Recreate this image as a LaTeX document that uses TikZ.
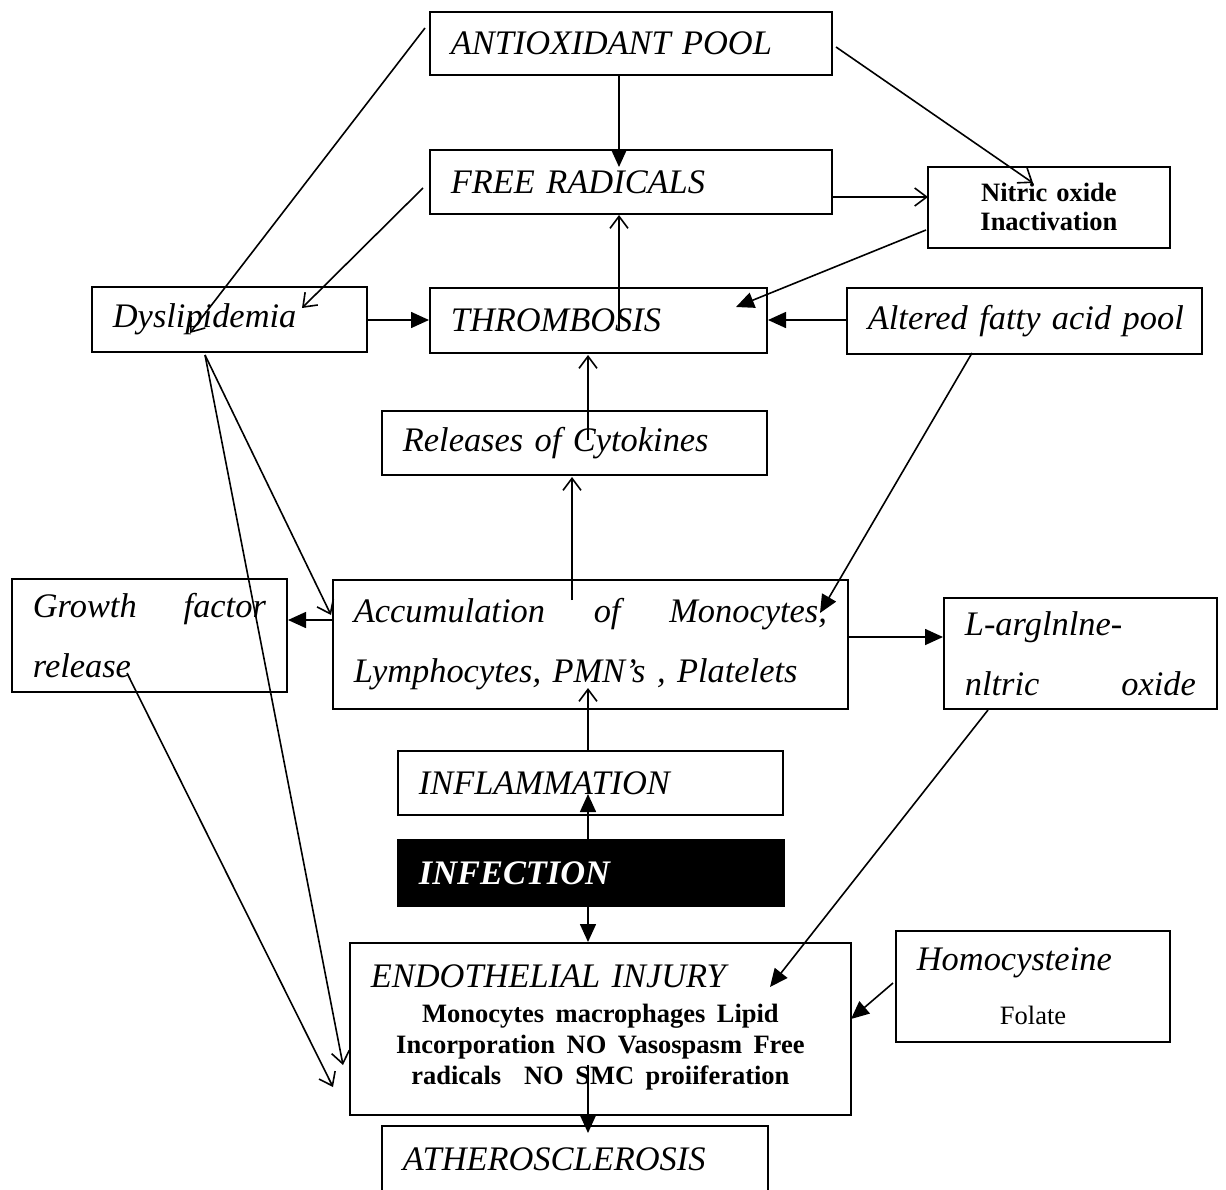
\documentclass[tikz,border=0pt]{standalone}
\usepackage{fontspec}
\setmainfont{Liberation Serif}
\usetikzlibrary{arrows.meta}
\newcommand\mkbox[7][]{%
  \pgfmathsetmacro\bxw{(#4-#2)/2-21}%
  \pgfmathsetmacro\bxh{(#5-#3)/2}%
  \node[bx,text width=\bxw pt,minimum height=\bxh pt,#1] (#6) at (#2,#3) {#7};}
\begin{document}
\begin{tikzpicture}[x=0.5pt,y=-0.5pt,
  bx/.style={draw, line width=0.9pt, anchor=north west, inner xsep=10.5pt, inner ysep=0pt,
    align=left, font=\fontsize{17.2}{30}\selectfont\itshape},
  bld/.style={font=\fontsize{13.25}{14.5}\selectfont\bfseries},
  op/.style={-{Straight Barb[length=6pt,width=9pt]}, line width=0.8pt},
  fl/.style={-{Triangle[length=9pt,width=8pt]}, line width=0.8pt},
]
\useasboundingbox (0,0) rectangle (1226,1189);
% boxes
\mkbox{429}{11}{831}{74}{ant}{ANTIOXIDANT POOL}
\mkbox{429}{149}{831}{213}{fr}{FREE RADICALS}
\mkbox[bld,align=center]{927}{166}{1169}{247}{no}{Nitric oxide\\Inactivation}
\mkbox{91}{286}{366}{351}{dys}{Dyslipidemia}
\mkbox{429}{287}{766}{352}{thr}{THROMBOSIS}
\mkbox{846}{287}{1201}{353}{afa}{\mbox{Altered fatty acid pool}}
\mkbox{381}{410}{766}{474}{cyt}{Releases of Cytokines}
\mkbox{11}{578}{286}{691}{gf}{\makebox[\bxw pt]{Growth\hfill factor}\\release}
\mkbox{332}{579}{847}{708}{acc}{\makebox[\bxw pt]{Accumulation\hfill of\hfill Monocytes,}\\Lymphocytes, PMN’s , Platelets}
\mkbox{943}{597}{1216}{708}{arg}{L-arglnlne-\\\makebox[\bxw pt]{nltric\hfill oxide}}
\mkbox{397}{750}{782}{814}{infl}{INFLAMMATION}
\mkbox[fill=black,text=white,font=\fontsize{17.2}{30}\selectfont\bfseries\itshape]{397}{839}{783}{905}{inf}{INFECTION}
\mkbox[align=center]{349}{942}{850}{1114}{endo}{\makebox[\bxw pt][l]{ENDOTHELIAL INJURY}\\[-12.5pt]{\fontsize{13.25}{15.5}\selectfont\bfseries\upshape\begin{tabular}[t]{@{}c@{}}Monocytes macrophages Lipid\\Incorporation NO Vasospasm Free\\radicals~ NO SMC proiiferation\end{tabular}}}
\mkbox{895}{930}{1169}{1041}{hom}{Homocysteine\\[-3pt]\hspace*{41.5pt}{\upshape\fontsize{13.25}{15}\selectfont Folate}}
\mkbox{381}{1125}{767}{1192}{ath}{ATHEROSCLEROSIS}
% connectors
\draw[op] ([shift={(-4,17)}]ant.north west) -- ([shift={(99,47)}]dys.north west);
\draw[op] ([shift={(-6,39)}]fr.north west) -- ([shift={(211,22)}]dys.north west);
\draw[fl] ([shift={(190,63)}]ant.north west) -- ([shift={(190,18)}]fr.north west);
\draw[op] ([shift={(407,36)}]ant.north west) -- ([shift={(106,17)}]no.north west);
\draw[op] ([shift={(402,48)}]fr.north west) -- ([shift={(1,31)}]no.north west);
\draw[fl] ([shift={(-1,64)}]no.north west) -- ([shift={(307,20)}]thr.north west);
\draw[fl] ([shift={(0,33)}]afa.north west) -- ([shift={(339,33)}]thr.north west);
\draw[fl] ([shift={(275,34)}]dys.north west) -- ([shift={(0,33)}]thr.north west);
\draw[op] ([shift={(190,43)}]thr.north west) -- ([shift={(190,66)}]fr.north west);
\draw[op] ([shift={(207,30)}]cyt.north west) -- ([shift={(159,68)}]thr.north west);
\draw[op] ([shift={(240,21)}]acc.north west) -- ([shift={(191,67)}]cyt.north west);
\draw[op] ([shift={(191,0)}]infl.north west) -- ([shift={(256,109)}]acc.north west);
\draw[fl] ([shift={(191,1)}]inf.north west) -- ([shift={(191,44)}]infl.north west);
\draw[fl] ([shift={(191,66)}]inf.north west) -- ([shift={(239,0)}]endo.north west);
\draw[fl] ([shift={(239,123)}]endo.north west) -- ([shift={(207,8)}]ath.north west);
\draw[fl] ([shift={(126,66)}]afa.north west) -- ([shift={(488,34)}]acc.north west);
\draw[fl] ([shift={(515,58)}]acc.north west) -- ([shift={(0,40)}]arg.north west);
\draw[fl] ([shift={(0,41)}]acc.north west) -- ([shift={(277,42)}]gf.north west);
\draw[op] ([shift={(114,69)}]dys.north west) -- ([shift={(-1,36)}]acc.north west);
\draw[op] ([shift={(114,69)}]dys.north west) -- ([shift={(-6,123)}]endo.north west);
\draw[op] ([shift={(116,95)}]gf.north west) -- ([shift={(-16,145)}]endo.north west);
\draw[fl] ([shift={(45,113)}]arg.north west) -- ([shift={(421,45)}]endo.north west);
\draw[fl] ([shift={(-2,53)}]hom.north west) -- ([shift={(502,77)}]endo.north west);
\end{tikzpicture}
\end{document}
